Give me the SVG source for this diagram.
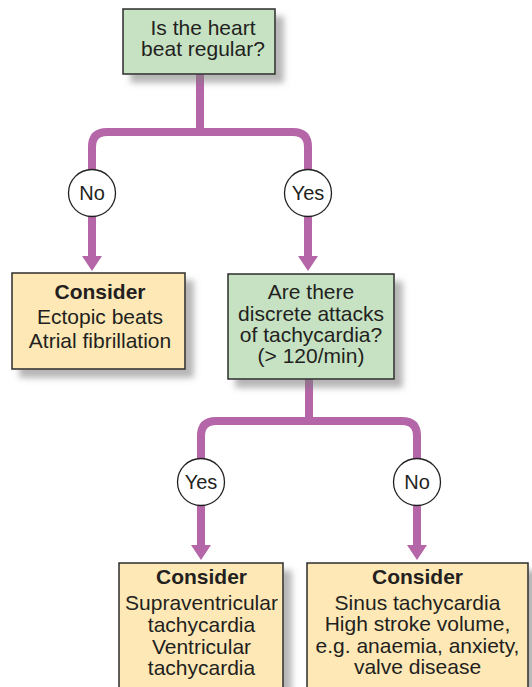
<svg xmlns="http://www.w3.org/2000/svg" width="532" height="687" viewBox="0 0 532 687">
<defs>
<filter id="sh" x="-20%" y="-20%" width="150%" height="150%">
<feDropShadow dx="8" dy="8" stdDeviation="3" flood-color="#7a7a7a" flood-opacity="0.55"/>
</filter>
<marker id="ah" markerUnits="userSpaceOnUse" viewBox="0 0 15 20" refX="0" refY="10" markerWidth="15" markerHeight="20" orient="auto">
<path d="M0,0 L15,10 L0,20 z" fill="#b566a8"/>
</marker>
</defs>
<style>
.g{fill:#c6e2c3;stroke:#2b2b2b;stroke-width:1.5}
.y{fill:#fde8b6;stroke:#2b2b2b;stroke-width:1.5}
.c{fill:#ffffff;stroke:#231f20;stroke-width:1.3}
.t{font-family:"Liberation Sans",Arial,sans-serif;font-size:21px;fill:#231f20;text-anchor:middle}
.b{font-weight:bold}
.l{font-family:"Liberation Sans",Arial,sans-serif;font-size:20px;fill:#231f20;text-anchor:middle}
.e{fill:none;stroke:#b566a8;stroke-width:8}
</style>
<g id="connectors">
<path class="e" d="M200,74 V136"/>
<path class="e" d="M204,132 H107 Q92,132 92,147 V256" marker-end="url(#ah)"/>
<path class="e" d="M196,132 H293 Q308,132 308,147 V256" marker-end="url(#ah)"/>
<path class="e" d="M309,379 V425"/>
<path class="e" d="M313,421 H216 Q201,421 201,436 V545" marker-end="url(#ah)"/>
<path class="e" d="M305,421 H402 Q417,421 417,436 V545" marker-end="url(#ah)"/>
</g>
<g id="q1">
<rect class="g" x="123" y="9" width="152" height="65" filter="url(#sh)"/>
<text class="t" x="203" y="35">Is the heart</text>
<text class="t" x="203" y="56">beat regular?</text>
</g>
<g id="no1">
<circle class="c" cx="92" cy="193" r="23.5"/>
<text class="l" x="92" y="200">No</text>
</g>
<g id="yes1">
<circle class="c" cx="308" cy="193" r="23.5"/>
<text class="l" x="308" y="200">Yes</text>
</g>
<g id="r1">
<rect class="y" x="12" y="273" width="173" height="96" filter="url(#sh)"/>
<text class="t b" x="100" y="299">Consider</text>
<text class="t" x="100" y="324">Ectopic beats</text>
<text class="t" x="100" y="348">Atrial fibrillation</text>
</g>
<g id="q2">
<rect class="g" x="228" y="274" width="166" height="105" filter="url(#sh)"/>
<text class="t" x="311" y="299">Are there</text>
<text class="t" x="311" y="320.5">discrete attacks</text>
<text class="t" x="311" y="342">of tachycardia?</text>
<text class="t" x="311" y="363">(&gt; 120/min)</text>
</g>
<g id="yes2">
<circle class="c" cx="201" cy="482" r="23.5"/>
<text class="l" x="201" y="489">Yes</text>
</g>
<g id="no2">
<circle class="c" cx="417" cy="482" r="23.5"/>
<text class="l" x="417" y="489">No</text>
</g>
<g id="r2">
<rect class="y" x="119" y="563" width="164" height="140" filter="url(#sh)"/>
<text class="t b" x="201.5" y="583.5">Consider</text>
<text class="t" x="201.5" y="610">Supraventricular</text>
<text class="t" x="201.5" y="631.5">tachycardia</text>
<text class="t" x="201.5" y="654">Ventricular</text>
<text class="t" x="201.5" y="675">tachycardia</text>
</g>
<g id="r3">
<rect class="y" x="307" y="563" width="221" height="140" filter="url(#sh)"/>
<text class="t b" x="417.5" y="583.5">Consider</text>
<text class="t" x="417.5" y="609.5">Sinus tachycardia</text>
<text class="t" x="417.5" y="631">High stroke volume,</text>
<text class="t" x="417.5" y="652.5">e.g. anaemia, anxiety,</text>
<text class="t" x="417.5" y="673.5">valve disease</text>
</g>
</svg>
